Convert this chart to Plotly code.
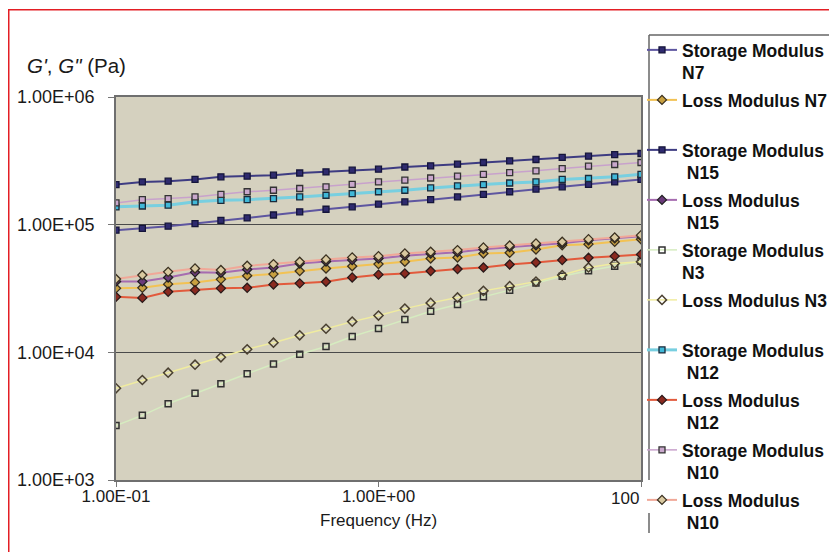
import plotly.graph_objects as go

# Frequency (Hz)
freq = [0.1, 0.126, 0.158, 0.2, 0.251, 0.316, 0.398, 0.501, 0.631, 0.794,
        1.0, 1.26, 1.58, 2.0, 2.51, 3.16, 3.98, 5.01, 6.31, 7.94, 10.0]

# Storage / loss moduli (Pa)
storage_n7 = [90600, 93400, 97300, 102000, 108000, 113000, 119000, 126000, 132000, 138000,
              145000, 151000, 157000, 165000, 173000, 181000, 190000, 198000, 207000, 216000, 226000]
loss_n7 = [31700, 32000, 34200, 35300, 37300, 39800, 41000, 43300, 45400, 47300,
           49100, 51200, 54400, 55400, 59500, 60200, 64000, 69100, 70400, 73400, 77000]
storage_n15 = [206000, 216000, 219000, 226000, 237000, 240000, 244000, 254000, 259000, 267000,
               272000, 283000, 289000, 298000, 307000, 316000, 324000, 336000, 344000, 354000, 361000]
loss_n15 = [35900, 35900, 38600, 42300, 42000, 44600, 46200, 49700, 51500, 52800,
            54400, 57200, 59300, 60900, 64300, 66700, 69100, 71600, 75600, 78400, 81300]
storage_n3 = [2670, 3210, 3960, 4780, 5680, 6800, 8100, 9650, 11100, 13300,
              15400, 18100, 21000, 23700, 27200, 30700, 34900, 39500, 43500, 47300, 51800]
loss_n3 = [5230, 6070, 6930, 8000, 9140, 10560, 11900, 13600, 15300, 17400,
           19400, 22000, 24400, 26900, 30300, 33000, 35800, 40300, 46200, 49700, 51200]
storage_n12 = [138000, 140000, 142000, 151000, 155000, 157000, 160000, 165000, 170000, 175000,
               181000, 186000, 194000, 201000, 206000, 212000, 216000, 226000, 230000, 237000, 248000]
loss_n12 = [27200, 26700, 29800, 30700, 31700, 32000, 34000, 34700, 35700, 38600,
            40600, 41500, 43300, 44900, 46200, 48800, 50600, 52800, 55000, 56700, 58500]
storage_n10 = [148000, 157000, 160000, 165000, 173000, 181000, 186000, 192000, 198000, 207000,
               216000, 223000, 232000, 240000, 248000, 256000, 264000, 275000, 287000, 296000, 307000]
loss_n10 = [37500, 40300, 42700, 45400, 44100, 47600, 49100, 51200, 53400, 55400,
            56700, 59500, 61300, 63200, 66300, 68700, 71300, 73400, 77000, 79400, 82800]

y_tick_vals = [1e3, 1e4, 1e5, 1e6]
y_tick_text = ["1.00E+03", "1.00E+04", "1.00E+05", "1.00E+06"]
x_tick_vals = [0.1, 1, 10]
x_tick_text = ["1.00E-01", "1.00E+00", ""]

NB = "\u00a0"
series = [
    ("Storage Modulus<br>N7", storage_n7, "#5e56a0", 2, "square", "#2e2a6e", "#15153a", 6),
    ("Loss Modulus N7<br>" + NB, loss_n7, "#f2c254", 2, "diamond", "#c8a040", "#3a3020", 7),
    ("Storage Modulus<br>" + NB + "N15", storage_n15, "#3e3c82", 2, "square", "#2e2a6e", "#15153a", 6),
    ("Loss Modulus<br>" + NB + "N15", loss_n15, "#a66cb0", 2, "diamond", "#6a3a7a", "#222222", 7),
    ("Storage Modulus<br>N3", storage_n3, "#d6ecc0", 1.5, "square-open", "#303030", "#303030", 6),
    ("Loss Modulus N3<br>" + NB, loss_n3, "#f0eca0", 1.5, "diamond-open", "#4a4030", "#4a4030", 7),
    ("Storage Modulus<br>" + NB + "N12", storage_n12, "#78cfe0", 3, "square", "#40b8d8", "#1a2a3a", 6),
    ("Loss Modulus<br>" + NB + "N12", loss_n12, "#e25a3c", 2, "diamond", "#8a2a20", "#2a1a1a", 7),
    ("Storage Modulus<br>" + NB + "N10", storage_n10, "#c8a2cc", 1.5, "square", "#c9a8cc", "#333333", 6),
    ("Loss Modulus<br>" + NB + "N10", loss_n10, "#f0a898", 2, "diamond", "#d9c9a0", "#3a3020", 7),
]

fig = go.Figure()
for i, (name, vals, lc, lw, sym, mc, mlc, ms) in enumerate(series):
    open_sym = sym.endswith("open")
    fig.add_trace(go.Scatter(
        x=freq, y=vals, name=name, mode="lines+markers", legendgroup=f"g{i}",
        line=dict(color=lc, width=lw),
        marker=dict(symbol=sym, size=ms, color=mc,
                    line=dict(color=mlc, width=1.3 if not open_sym else 1.5)),
    ))

FONT = "Arial, 'Liberation Sans', sans-serif"
OFF = 8  # page body margin
W, H = 837 - OFF, 552 - OFF
# plot area in window pixels: x 116..641, y 97..480
L = 116 - OFF
T = 97 - OFF
R = W - (641 - OFF)
B = H - (480 - OFF)
pw, ph = W - L - R, H - T - B


def px(X):
    return (X - OFF - L) / pw


def py(Y):
    return (H - B - (Y - OFF)) / ph


fig.update_layout(
    width=W, height=H,
    margin=dict(l=L, r=R, t=T, b=B, autoexpand=False),
    paper_bgcolor="white",
    plot_bgcolor="#d5d1bf",
    font=dict(family=FONT, size=17, color="#1a1a1a"),
    showlegend=True,
    legend=dict(
        x=px(642), y=py(32), xanchor="left", yanchor="top",
        xref="paper", yref="paper",
        bgcolor="rgba(0,0,0,0)", borderwidth=0,
        font=dict(family=FONT, size=17.5, color="#111111", weight="bold"),
        valign="top", itemwidth=30, maxheight=560,
        traceorder="grouped", tracegroupgap=1.5,
    ),
    xaxis=dict(
        type="log", range=[-1, 1],
        tickvals=x_tick_vals, ticktext=x_tick_text,
        ticks="outside", ticklen=5, tickcolor="#777777",
        showline=True, linecolor="#6f6f6f", linewidth=1.5, mirror=True,
        showgrid=False, zeroline=False, ticklabelstandoff=-5,
        tickfont=dict(size=17, color="#1a1a1a"),
    ),
    yaxis=dict(
        type="log", range=[3, 6],
        tickvals=y_tick_vals, ticktext=y_tick_text,
        ticks="outside", ticklen=6, tickcolor="#777777",
        showline=True, linecolor="#6f6f6f", linewidth=1.5, mirror=True,
        showgrid=True, gridcolor="#4a4a4a", gridwidth=1,
        zeroline=False, ticklabelstandoff=10,
        tickfont=dict(size=18, color="#1a1a1a"),
    ),
    annotations=[
        dict(text="<i>G'</i>, <i>G\"</i> (Pa)", xref="paper", yref="paper",
             x=px(25), y=py(66), xanchor="left", yanchor="middle",
             showarrow=False, font=dict(size=20.5, color="#1a1a1a")),
        dict(text="Frequency (Hz)", xref="paper", yref="paper",
             x=0.5, y=py(520), xanchor="center", yanchor="middle",
             showarrow=False, font=dict(size=17, color="#1a1a1a")),
        dict(text="100", xref="paper", yref="paper",
             x=px(641), y=py(499), xanchor="right", yanchor="middle",
             showarrow=False, font=dict(size=17, color="#1a1a1a")),
    ],
    shapes=[
        # red outer frame
        dict(type="rect", xref="paper", yref="paper",
             x0=px(8.75), x1=px(900), y0=py(600), y1=py(9.75),
             line=dict(color="#e31e24", width=1.5), fillcolor="rgba(0,0,0,0)"),
        # legend box border
        dict(type="line", xref="paper", yref="paper",
             x0=px(649), x1=px(900), y0=py(35), y1=py(35),
             line=dict(color="#666666", width=1.5)),
        dict(type="line", xref="paper", yref="paper",
             x0=px(649), x1=px(649), y0=py(35), y1=py(480),
             line=dict(color="#666666", width=1.5)),
        dict(type="line", xref="paper", yref="paper",
             x0=px(649), x1=px(649), y0=py(513), y1=py(533),
             line=dict(color="#666666", width=1.5)),
    ],
)

fig.write_html("out.html")
